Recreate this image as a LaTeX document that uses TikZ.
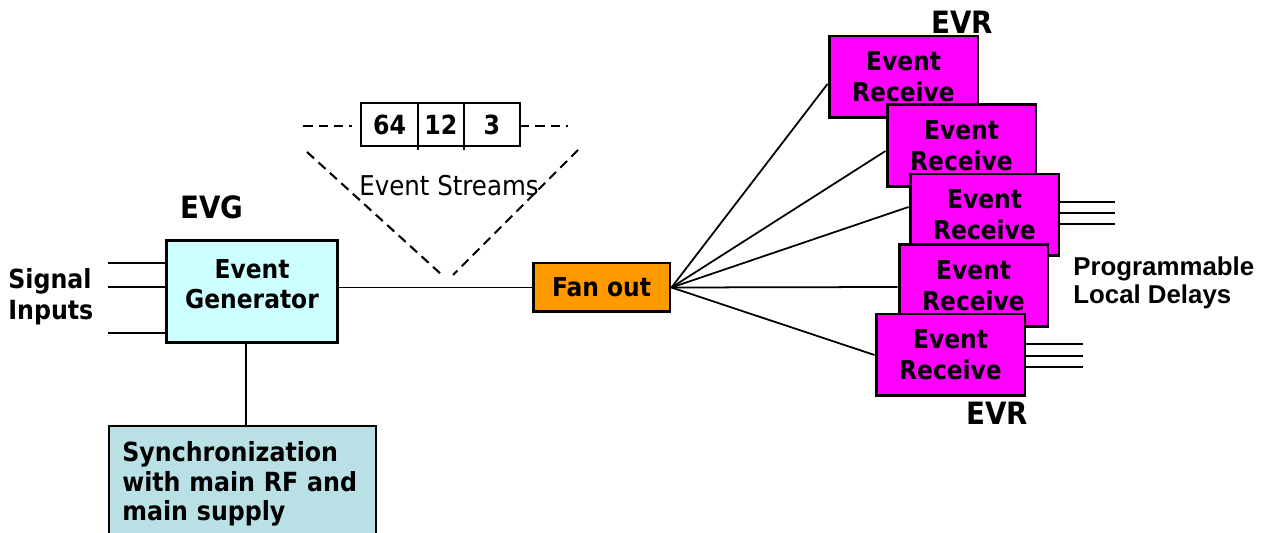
\documentclass[tikz,border=0pt]{standalone}
\usepackage{fontspec}
\setmainfont{DejaVu Sans Condensed}
\newfontfamily\delayfont{Liberation Sans}
\usetikzlibrary{positioning}
\definecolor{evgcyan}{RGB}{204,255,255}
\definecolor{fanorange}{RGB}{255,153,0}
\definecolor{evrpink}{RGB}{255,0,255}
\definecolor{syncblue}{RGB}{185,224,229}
\tikzset{
 box/.style={draw,line width=1.7pt,font=\bfseries\fontsize{14.8}{17.6}\selectfont,align=center,inner sep=0pt},
 evrbox/.style={box,fill=evrpink,minimum width=2.98cm,minimum height=1.64cm},
 cell/.style={draw,line width=0.9pt,outer sep=0pt,minimum height=0.86cm,inner sep=0pt,font=\bfseries\fontsize{15}{17}\selectfont},
 wire/.style={line width=1pt},
 dashline/.style={line width=1.2pt,dash pattern=on 0.19cm off 0.12cm},
 tag/.style={font=\bfseries\fontsize{15}{17.6}\selectfont,align=left,inner sep=0pt},
 bigtag/.style={tag,font=\bfseries\fontsize{17.5}{20}\selectfont}
}
\begin{document}
\begin{tikzpicture}[x=0.02cm,y=-0.02cm]
 \clip (0,0) rectangle (1268,533);
 \node[box,fill=evgcyan,minimum width=3.44cm,minimum height=2.06cm,text depth=0.3cm] (evg) at (252,291.5) {Event\\Generator};
 \node[bigtag] (evglabel) at (212,207) {EVG};
 \node[tag,anchor=west] (sig) at (8,297) {Signal\\Inputs};
 \foreach \y [count=\i] in {263,287,333} {
  \coordinate (sig\i) at (108,\y);
  \draw[wire] (sig\i) -- (sig\i -| evg.west);
 }
 \node[draw,wire,fill=syncblue,anchor=north west,text width=4.8cm,inner xsep=0.27cm,inner ysep=0.32cm,align=left,font=\bfseries\fontsize{15}{16.8}\selectfont] (sync) at (108,425) {Synchronization\\with main RF and\\main supply};
 \draw[wire] ([xshift=-0.12cm]evg.south) coordinate (s0) -- (s0 |- sync.north);
 \node[box,fill=fanorange,minimum width=2.74cm,minimum height=0.98cm] (fan) at (601.5,287.5) {Fan out};
 \draw[wire] (evg.east |- fan) -- (fan.west);
 \node[cell,minimum width=1.14cm] (c64) at (389.5,124.5) {64};
 \node[cell,minimum width=0.92cm,right=0pt of c64] (c12) {12};
 \node[cell,minimum width=1.12cm,right=0pt of c12] (c3) {3};
 \draw[wire] (c64.south east) -- ++(0,4);
 \draw[wire] (c12.south east) -- ++(0,4);
 \coordinate (sl) at (303,126);
 \coordinate (sr) at (568,126);
 \draw[dashline,shorten >=0.18cm] (sl) -- (sl -| c64.west);
 \draw[dashline] (sr -| c3.east) -- (sr);
 \coordinate (vl) at (307,152);
 \coordinate (vlb) at (442,275);
 \coordinate (vr) at (578,150);
 \coordinate (vrb) at (453,275);
 \draw[dashline] (vl) -- (vlb);
 \draw[dashline] (vr) -- (vrb);
 \node[font=\fontsize{15.5}{17}\selectfont] (streams) at (449,186) {Event Streams};
 \foreach \n/\x/\y in {1/903.5/77,2/961.5/145.5,3/984.5/215,4/973.5/285.5,5/950.5/355}
  \node[evrbox] (evr\n) at (\x,\y) {Event\\Receive};
 \foreach \n/\y in {1/84,2/151,3/207,4/287,5/355}
  \draw[wire] (fan.east) -- (evr\n.west |- 0,\y);
 \foreach \y [count=\i] in {202,213,224} {
  \coordinate (outa\i) at (1115,\y);
  \draw[wire] (outa\i -| evr3.east) -- (outa\i);
 }
 \foreach \y [count=\i] in {344,356,367} {
  \coordinate (outb\i) at (1083,\y);
  \draw[wire] (outb\i -| evr5.east) -- (outb\i);
 }
 \node[bigtag] (evrtop) at (962,22) {EVR};
 \node[bigtag] (evrbot) at (997,413) {EVR};
 \node[tag,anchor=west,font=\delayfont\bfseries\fontsize{14.7}{16.2}\selectfont] (delays) at (1073,283) {Programmable\\Local Delays};
\end{tikzpicture}
\end{document}
